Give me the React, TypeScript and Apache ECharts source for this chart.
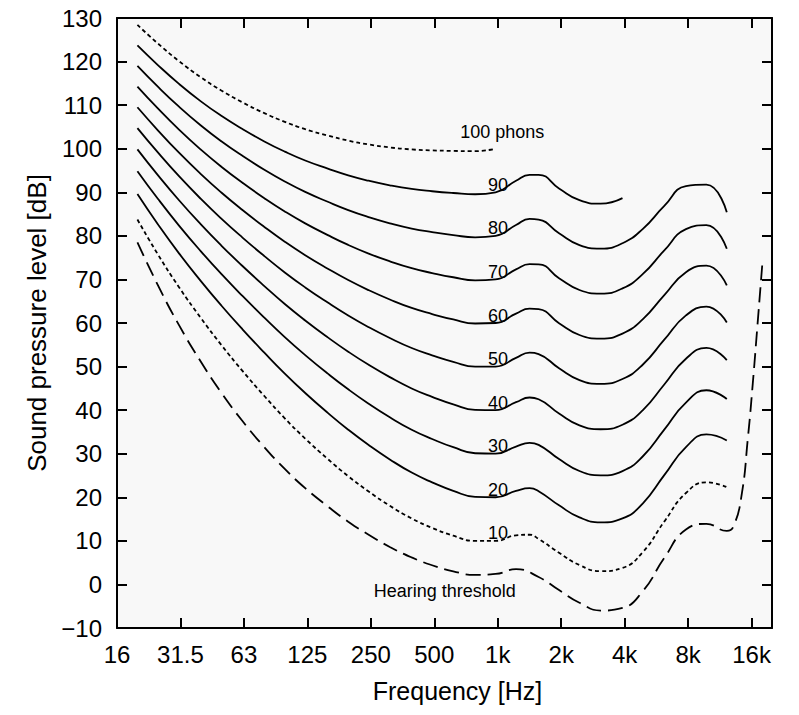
import React, { useEffect, useRef } from "react";
import * as echarts from "echarts";

// ISO 226 one-third-octave frequencies (Hz), plus a read-off point at the 1.45 kHz bump
const freqs = [20, 25, 31.5, 40, 50, 63, 80, 100, 125, 160, 200, 250, 315, 400, 500, 630, 800, 1000, 1250, 1450, 1600, 2000, 2500, 3150, 4000, 5000, 6300, 8000, 10000, 12500];
// hearing threshold frequencies (extends beyond 12.5 kHz)
const thresholdFreqs = [20, 25, 31.5, 40, 50, 63, 80, 100, 125, 160, 200, 250, 315, 400, 500, 630, 800, 1000, 1250, 1600, 2000, 2500, 3150, 4000, 5000, 6300, 8000, 10000, 12500, 13400, 14650, 15750, 16600, 17500, 18400];

const threshold = [78.5, 68.7, 59.5, 51.1, 44.0, 37.5, 31.5, 26.5, 22.1, 17.9, 14.4, 11.4, 8.6, 6.2, 4.4, 3.0, 2.2, 2.4, 3.5, 1.7, -1.3, -4.2, -6.0, -5.4, -1.5, 6.0, 12.6, 13.9, 12.3, 13.2, 20.1, 33.8, 46.1, 59.9, 73.2];
const phon10 = [83.75, 75.76, 68.21, 61.14, 54.96, 49.01, 43.24, 38.13, 33.48, 28.78, 24.84, 21.33, 18.05, 15.14, 12.98, 11.18, 9.99, 10.0, 11.26, 11.4, 10.43, 7.27, 4.45, 3.04, 3.79, 7.46, 14.35, 20.98, 23.43, 22.33];
const phon20 = [89.58, 82.65, 75.98, 69.62, 64.02, 58.55, 53.19, 48.38, 43.94, 39.37, 35.51, 31.99, 28.69, 25.67, 23.43, 21.48, 20.10, 20.01, 21.46, 22.1, 21.40, 18.15, 15.38, 14.25, 15.14, 18.63, 25.02, 31.52, 34.43, 33.04];
const phon30 = [94.85, 88.52, 82.36, 76.45, 71.26, 66.20, 61.22, 56.76, 52.64, 48.38, 44.78, 41.47, 38.36, 35.50, 33.37, 31.49, 30.11, 30.01, 31.65, 32.5, 32.04, 28.76, 26.03, 25.04, 26.02, 29.42, 35.48, 41.74, 44.57, 42.55];
const phon40 = [99.85, 93.94, 88.17, 82.63, 77.78, 73.08, 68.48, 64.37, 60.59, 56.70, 53.41, 50.40, 47.58, 44.98, 43.05, 41.34, 40.06, 40.01, 41.82, 42.9, 42.51, 39.23, 36.51, 35.61, 36.65, 40.01, 45.83, 51.80, 54.28, 51.49];
const phon50 = [104.72, 99.14, 93.69, 88.48, 83.96, 79.61, 75.36, 71.61, 68.17, 64.68, 61.72, 59.04, 56.55, 54.26, 52.59, 51.10, 49.98, 50.0, 51.99, 53.2, 52.87, 49.62, 46.91, 46.05, 47.15, 50.48, 56.11, 61.75, 63.78, 60.13];
const phon60 = [109.51, 104.23, 99.08, 94.18, 89.96, 85.94, 82.05, 78.65, 75.56, 72.47, 69.86, 67.53, 65.39, 63.45, 62.05, 60.81, 59.89, 60.0, 62.15, 63.3, 63.19, 59.96, 57.25, 56.42, 57.57, 60.89, 66.36, 71.66, 73.15, 68.63];
const phon70 = [114.26, 109.25, 104.38, 99.78, 95.87, 92.18, 88.64, 85.60, 82.86, 80.17, 77.92, 75.94, 74.16, 72.58, 71.47, 70.50, 69.78, 70.0, 72.32, 73.5, 73.47, 70.28, 67.58, 66.76, 67.95, 71.26, 76.59, 81.54, 82.46, 77.04];
const phon80 = [118.99, 114.23, 109.65, 105.34, 101.72, 98.36, 95.17, 92.48, 90.09, 87.82, 85.92, 84.31, 82.89, 81.68, 80.86, 80.17, 79.67, 80.0, 82.48, 83.9, 83.74, 80.59, 77.88, 77.07, 78.31, 81.62, 86.81, 91.41, 91.74, 85.41];
const phon90 = [123.70, 119.20, 114.88, 110.87, 107.55, 104.51, 101.67, 99.33, 97.29, 95.43, 93.89, 92.65, 91.60, 90.76, 90.24, 89.84, 89.55, 90.0, 92.65, 94.0, 94.00, 90.88, 88.18, 87.38, 88.66];
const phon100 = [128.41, 124.15, 120.11, 116.38, 113.35, 110.65, 108.16, 106.17, 104.48, 103.03, 101.85, 100.97, 100.30, 99.83, 99.62, 99.50, 99.44, 100.0];

// tick labels at 16 * 2^n Hz
const xTickLabels = ["16", "31.5", "63", "125", "250", "500", "1k", "2k", "4k", "8k", "16k"];

// curve annotations: [text, frequency Hz, dB]
const curveLabels: [string, number, number][] = [
  ["100 phons", 679, 103.9],
  ["90", 920, 91.7],
  ["80", 920, 81.7],
  ["70", 920, 71.7],
  ["60", 920, 61.7],
  ["50", 920, 51.7],
  ["40", 920, 41.7],
  ["30", 920, 31.7],
  ["20", 920, 21.7],
  ["10", 920, 11.7],
  ["Hearing threshold", 264, -1.5],
];

const FONT = "'Liberation Sans', Arial, Helvetica, sans-serif";
const GRID = { left: 117, right: 27, top: 18, bottom: 87 };
const X_MIN = 4; // log2(16)
const X_MAX = Math.log2(20480);

const mkLine = (show: boolean) => ({ show, onZero: false, lineStyle: { color: "#000", width: 2 } });
const mkTick = (show: boolean) => ({ show, inside: true, length: 10, lineStyle: { color: "#000", width: 2 } });

function xAxisBase(pos: string, frame: boolean) {
  return { type: "value", min: X_MIN, max: X_MAX, interval: 1, position: pos, splitLine: { show: false }, axisLine: mkLine(frame), axisTick: mkTick(frame) };
}
function yAxisBase(pos: string, frame: boolean) {
  return { type: "value", min: -10, max: 130, interval: 10, position: pos, splitLine: { show: false }, axisLine: mkLine(frame), axisTick: mkTick(frame) };
}

export default function App() {
  const contentRef = useRef<HTMLDivElement>(null);
  const frameRef = useRef<HTMLDivElement>(null);
  useEffect(() => {
    if (!contentRef.current || !frameRef.current) return;
    const frame = echarts.init(frameRef.current, undefined, { renderer: "svg" });
    const chart = echarts.init(contentRef.current, undefined, { renderer: "svg" });

    // frame layer first: box and inward ticks on all four sides
    try {
      frame.setOption({
        animation: false,
        grid: GRID,
        xAxis: [
          { ...xAxisBase("bottom", true), axisLabel: { show: false } },
          { ...xAxisBase("top", true), axisLabel: { show: false } },
        ],
        yAxis: [
          { ...yAxisBase("left", true), axisLabel: { show: false } },
          { ...yAxisBase("right", true), axisLabel: { show: false } },
        ],
        series: [],
      });
    } catch (e) {
      console.error(e);
    }

    const solid = "solid";
    const dotted = [4, 3];
    const dashed = [15, 7];
    const curves: [string, number[], number[], any][] = [
      ["threshold", thresholdFreqs, threshold, dashed],
      ["10", freqs, phon10, dotted],
      ["20", freqs, phon20, solid],
      ["30", freqs, phon30, solid],
      ["40", freqs, phon40, solid],
      ["50", freqs, phon50, solid],
      ["60", freqs, phon60, solid],
      ["70", freqs, phon70, solid],
      ["80", freqs, phon80, solid],
      ["90", freqs, phon90, solid],
      ["100", freqs, phon100, dotted],
    ];
    const series: any[] = curves.map(([name, fr, vals, dash], k) => {
      const s: any = {
        type: "line",
        name,
        data: vals.map((v, i) => [Math.log2(fr[i]), v]),
        symbol: "none",
        smooth: 0.5,
        silent: true,
        lineStyle: { color: "#000", width: 1.8, type: dash },
      };
      if (k === 0) {
        s.markPoint = {
          symbol: "circle",
          symbolSize: 0,
          silent: true,
          data: curveLabels.map(([t, f, db]) => ({
            coord: [Math.log2(f), db],
            value: t,
            label: {
              show: true,
              position: "right",
              distance: 0,
              formatter: t,
              color: "#000",
              fontSize: 18,
              fontFamily: FONT,
            },
          })),
        };
      }
      return s;
    });

    // content layer: curves, tick labels, axis names
    try {
      chart.setOption({
        animation: false,
        grid: GRID,
        xAxis: [
          {
            ...xAxisBase("bottom", false),
            name: "Frequency [Hz]",
            nameLocation: "middle",
            nameGap: 50,
            nameTextStyle: { fontSize: 25, color: "#000", fontFamily: FONT, padding: [0, 0, 0, 26] },
            axisLabel: {
              fontSize: 24,
              color: "#000",
              fontFamily: FONT,
              margin: 14,
              showMaxLabel: false,
              formatter: (v: number) => {
                const i = Math.round(v) - 4;
                return Math.abs(v - Math.round(v)) < 1e-6 && i >= 0 && i < xTickLabels.length ? xTickLabels[i] : "";
              },
            },
          },
          { ...xAxisBase("top", false), axisLabel: { show: false } },
        ],
        yAxis: [
          {
            ...yAxisBase("left", false),
            name: "Sound pressure level [dB]",
            nameLocation: "middle",
            nameGap: 62,
            nameTextStyle: { fontSize: 26, color: "#000", fontFamily: FONT },
            axisLabel: {
              fontSize: 24,
              color: "#000",
              fontFamily: FONT,
              margin: 15,
              formatter: (v: number) => (v < 0 ? "\u2212" + Math.abs(v) : String(v)),
            },
          },
          { ...yAxisBase("right", false), axisLabel: { show: false } },
        ],
        series,
      });
    } catch (e) {
      console.error(e);
    }
    return () => {
      chart.dispose();
      frame.dispose();
    };
  }, []);
  return (
    <div style={{ position: "fixed", left: 0, top: 0, width: 799, height: 715, background: "#fff" }}>
      <div
        style={{
          position: "absolute",
          left: GRID.left,
          top: GRID.top,
          width: 799 - GRID.left - GRID.right,
          height: 715 - GRID.top - GRID.bottom,
          background: "#f8f8f8",
        }}
      />
      <div ref={contentRef} style={{ position: "absolute", left: 0, top: 0, width: 799, height: 715 }} />
      <div ref={frameRef} style={{ position: "absolute", left: 0, top: 0, width: 799, height: 715, pointerEvents: "none" }} />
    </div>
  );
}
